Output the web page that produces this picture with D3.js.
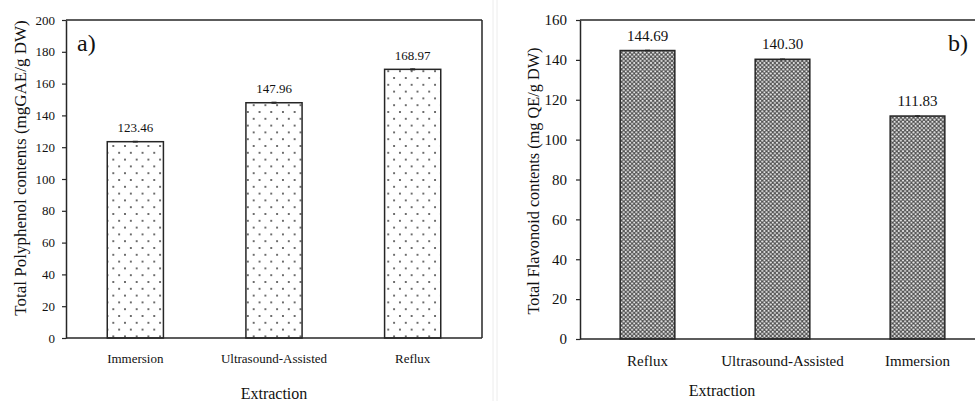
<!DOCTYPE html>
<html>
<head>
<meta charset="utf-8">
<script src="https://cdn.jsdelivr.net/npm/d3@7"></script>
<style>
  html, body { margin: 0; padding: 0; background: #fff; }
  svg { display: block; font-family: "Liberation Serif", "Times New Roman", serif; }
</style>
</head>
<body>
<svg id="chart" width="975" height="401"></svg>
<script>
// ---- Data ----
const catsA = ["Immersion", "Ultrasound-Assisted", "Reflux"];
const valsA = [123.46, 147.96, 168.97];
const errA = [0.3, 0.4, 0.4];
const ticksA = [0, 20, 40, 60, 80, 100, 120, 140, 160, 180, 200];

const catsB = ["Reflux", "Ultrasound-Assisted", "Immersion"];
const valsB = [144.69, 140.30, 111.83];
const errB = [0.2, 0.2, 0.2];
const ticksB = [0, 20, 40, 60, 80, 100, 120, 140, 160];

const svg = d3.select("#chart");
const ink = "#262626";

// faint panel borders
svg.append("line").attr("x1", 493).attr("x2", 493).attr("y1", 0).attr("y2", 401).attr("stroke", "#ececec");
svg.append("line").attr("x1", 497).attr("x2", 497).attr("y1", 0).attr("y2", 401).attr("stroke", "#ececec");

// ---- Patterns ----
const defs = svg.append("defs");
const dots = defs.append("pattern").attr("id", "dots").attr("patternUnits", "userSpaceOnUse")
  .attr("x", 113.3).attr("y", 146).attr("width", 11.7).attr("height", 13.6);
dots.append("rect").attr("width", 11.7).attr("height", 13.6).attr("fill", "#fff");
[[0, 0], [11.7, 0], [0, 13.6], [11.7, 13.6], [5.85, 6.8]].forEach(([x, y]) =>
  dots.append("circle").attr("cx", x).attr("cy", y).attr("r", 1.0).attr("fill", "#3a3a3a"));

const hatch = defs.append("pattern").attr("id", "hatch").attr("patternUnits", "userSpaceOnUse")
  .attr("width", 4.2).attr("height", 4.2);
hatch.append("rect").attr("width", 4.2).attr("height", 4.2).attr("fill", "#4d4d4d");
[[0, 0], [4.2, 0], [0, 4.2], [4.2, 4.2], [2.1, 2.1]].forEach(([x, y]) =>
  hatch.append("circle").attr("cx", x).attr("cy", y).attr("r", 1.1).attr("fill", "#e6e6e6"));

function panel(o) {
  const g = svg.append("g");
  const x = d3.scaleBand().domain(o.cats).range([o.x0, o.x1]).paddingInner(0.595).paddingOuter(0.2975);
  const y = d3.scaleLinear().domain([0, o.max]).range([o.y0, o.y1]);

  // bars
  g.selectAll("rect.bar").data(o.vals).join("rect")
    .attr("x", (d, i) => x(o.cats[i]))
    .attr("y", d => y(d))
    .attr("width", x.bandwidth())
    .attr("height", d => y(0) - y(d))
    .attr("fill", o.fill)
    .attr("stroke", ink).attr("stroke-width", 1.5);

  // error bars
  o.vals.forEach((v, i) => {
    const cx = x(o.cats[i]) + x.bandwidth() / 2;
    const e = o.err[i];
    g.append("line").attr("x1", cx).attr("x2", cx).attr("y1", y(v - e)).attr("y2", y(v + e)).attr("stroke", ink).attr("stroke-width", 0.8);
    [v - e, v + e].forEach(t => g.append("line").attr("x1", cx - 2.5).attr("x2", cx + 2.5).attr("y1", y(t)).attr("y2", y(t)).attr("stroke", ink).attr("stroke-width", 0.8));
  });

  // value labels
  g.selectAll("text.val").data(o.vals).join("text")
    .attr("x", (d, i) => x(o.cats[i]) + x.bandwidth() / 2)
    .attr("y", d => y(d) - o.valOff)
    .attr("text-anchor", "middle")
    .attr("font-size", o.fs).attr("fill", "#111")
    .text(d => d.toFixed(2));

  // frame
  g.append("line").attr("x1", o.x0).attr("x2", o.x1).attr("y1", o.y1).attr("y2", o.y1).attr("stroke", ink).attr("stroke-width", 1.5);
  g.append("line").attr("x1", o.x0).attr("x2", o.x1).attr("y1", o.y0).attr("y2", o.y0).attr("stroke", ink).attr("stroke-width", 1.5);
  if (o.rightFrame) g.append("line").attr("x1", o.x1).attr("x2", o.x1).attr("y1", o.y1).attr("y2", o.y0).attr("stroke", ink).attr("stroke-width", 1.5);

  // y axis
  const ya = g.append("g").attr("transform", `translate(${o.x0},0)`)
    .call(d3.axisLeft(y).tickValues(o.ticks).tickSize(4).tickPadding(o.tp).tickSizeOuter(0));
  ya.select(".domain").attr("stroke", ink).attr("stroke-width", 1.5);
  ya.selectAll(".tick line").attr("stroke", ink).attr("stroke-width", 1.2);
  ya.selectAll(".tick text").attr("font-size", o.fs).attr("fill", "#111").attr("font-family", "Liberation Serif, Times New Roman, serif");

  // category labels
  g.selectAll("text.cat").data(o.cats).join("text")
    .attr("x", d => x(d) + x.bandwidth() / 2)
    .attr("y", o.catY)
    .attr("text-anchor", "middle")
    .attr("font-size", o.fs).attr("fill", "#111")
    .text(d => d);

  // x title
  g.append("text").attr("x", o.xtX).attr("y", o.xtY).attr("text-anchor", "middle")
    .attr("font-size", 16).attr("fill", "#111").text("Extraction");

  // y title
  g.append("text").attr("transform", `translate(${o.ytX},${o.ytY}) rotate(-90)`)
    .attr("text-anchor", "middle").attr("dominant-baseline", "central")
    .attr("font-size", o.ytFs).attr("fill", "#111").text(o.ytitle);

  // panel tag
  g.append("text").attr("x", o.tagX).attr("y", o.tagY).attr("font-size", 24).attr("fill", "#111").text(o.tag);
}

panel({
  cats: catsA, vals: valsA, err: errA, ticks: ticksA, max: 200,
  x0: 66, x1: 482, y0: 338, y1: 20, fill: "url(#dots)", fs: 13, tp: 7, valOff: 9.6,
  catY: 363, xtX: 274, xtY: 399, rightFrame: true,
  ytX: 20, ytY: 168, ytFs: 17, ytitle: "Total Polyphenol contents (mgGAE/g DW)",
  tag: "a)", tagX: 77, tagY: 51
});

panel({
  cats: catsB, vals: valsB, err: errB, ticks: ticksB, max: 160,
  x0: 580, x1: 985, y0: 339, y1: 20, fill: "url(#hatch)", fs: 15, tp: 9, valOff: 10,
  catY: 366, xtX: 722, xtY: 396, rightFrame: false,
  ytX: 533, ytY: 181, ytFs: 16.3, ytitle: "Total Flavonoid contents (mg QE/g DW)",
  tag: "b)", tagX: 948, tagY: 51
});
</script>
</body>
</html>
